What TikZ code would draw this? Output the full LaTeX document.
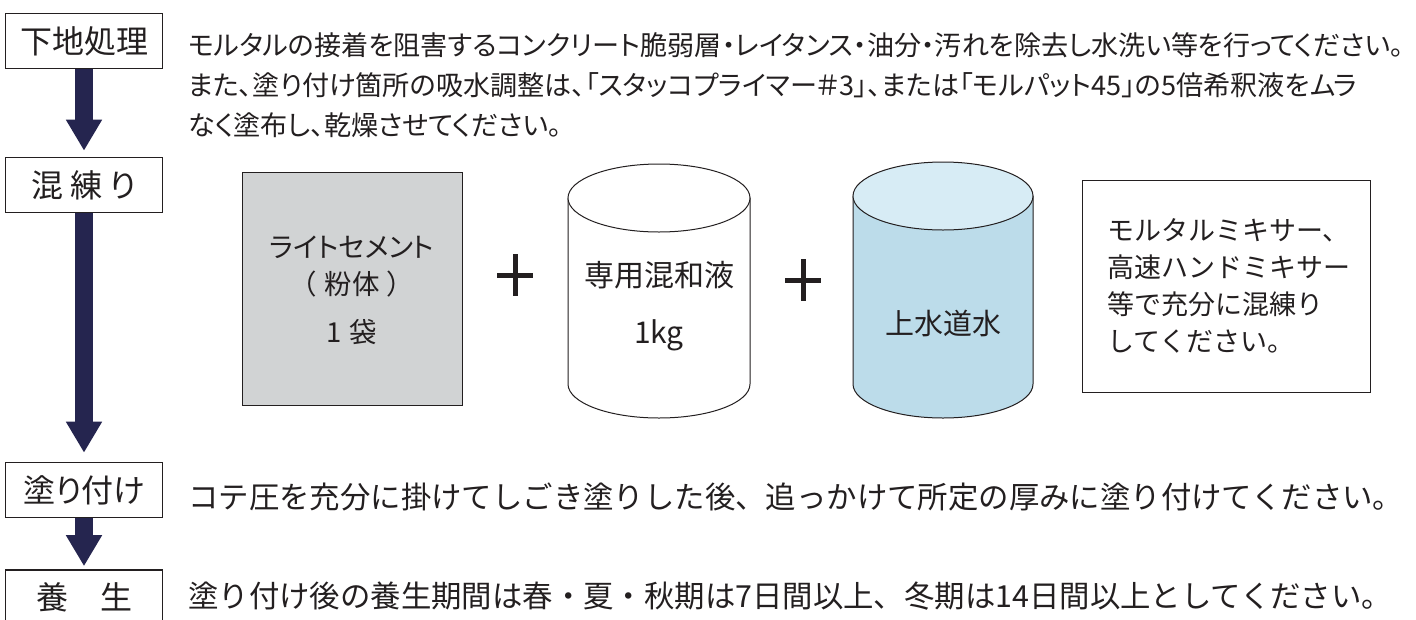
\documentclass[tikz,border=0pt]{standalone}
\usepackage{fontspec}
\usetikzlibrary{arrows.meta}
\newfontfamily\jp{Noto Sans CJK JP}
\newfontfamily\jpp{Noto Sans CJK JP}[RawFeature=+palt]
\definecolor{navy}{HTML}{25254F}
\definecolor{ink}{HTML}{231F20}
\definecolor{cementgray}{HTML}{D1D3D4}
\definecolor{waterbody}{HTML}{BCDCEA}
\definecolor{watertop}{HTML}{D7ECF5}
\begin{document}
\begin{tikzpicture}[x=1pt,y=-1pt,
  stepbox/.style={draw=ink, line width=1.6pt, minimum width=157pt, minimum height=55pt, inner sep=0pt, fill=white, text=ink, font=\jpp\fontsize{32}{32}\selectfont},
  flow/.style={navy, line width=18pt, -{Triangle[width=34pt,length=31pt]}},
  desc/.style={anchor=west, inner sep=0pt, text=ink, font=\jpp\fontsize{27.1}{27.1}\selectfont},
  bigdesc/.style={anchor=west, inner sep=0pt, text=ink, font=\jp\fontsize{30.4}{30.4}\selectfont},
  midtext/.style={inner sep=0pt, text=ink, align=center, font=\jpp\fontsize{27.5}{37}\selectfont},
  cyl/.style={draw=ink, line width=1pt},
  plus/.style={ink, line width=5pt}
]
\useasboundingbox (0,0) rectangle (1416,619);
\clip (0,0) rectangle (1416,619);
\fill[white] (0,0) rectangle (1416,619);

% step boxes
\node[stepbox] (s1) at (84,41) {下地処理};
\node[stepbox] (s2) at (84,185) {混 練 り};
\node[stepbox] (s3) at (84,490) {塗り付け};
\node[stepbox] (s4) at (84,597.5) {養\hspace{1em}生};

% flow arrows
\draw[flow, shorten >=6pt] (s1.south) -- (s2.north);
\draw[flow, shorten >=9pt] (s2.south) -- (s3.north);
\draw[flow, shorten >=3pt] (s3.south) -- (s4.north);

% descriptions
\node[desc] (d1a) at (188,45) {モルタルの接着を阻害するコンクリート脆弱層・レイタンス・油分・汚れを除去し水洗い等を行ってください。};
\node[desc] (d1b) at (188,85) {また、塗り付け箇所の吸水調整は、「スタッコプライマー＃3」、または「モルパット45」の5倍希釈液をムラ};
\node[desc] (d1c) at (188,125) {なく塗布し、乾燥させてください。};
\node[bigdesc] (d3) at (188,497) {コテ圧を充分に掛けてしごき塗りした後、追っかけて所定の厚みに塗り付けてください。};
\node[bigdesc] (d4) at (188,596) {塗り付け後の養生期間は春・夏・秋期は7日間以上、冬期は14日間以上としてください。};

% cement bag
\node[draw=ink, line width=1pt, fill=cementgray, minimum width=220pt, minimum height=233pt, inner sep=0pt] (bag) at (352,288.5) {};
\node[midtext] (bagtext) at (352,290) {ライトセメント\\（\hspace{0.3em}粉体\hspace{0.3em}）\\[11pt]1\hspace{0.3em}袋};

% plus 1
\coordinate (p1) at (515,275);
\draw[plus] ([xshift=-18pt]p1) -- ([xshift=18pt]p1);
\draw[plus] ([yshift=21pt]p1) -- ([yshift=-21pt]p1);

% cylinder 1 (admixture)
\draw[cyl, fill=white] (568,198) -- (568,384)
  .. controls (568,402.8) and (608.7,418) .. (659,418)
  .. controls (709.3,418) and (750,402.8) .. (750,384) -- (750,198) -- cycle;
\draw[cyl, fill=white] (659,198) ellipse [x radius=91, y radius=34];
\node[midtext, font=\jp\fontsize{30}{57}\selectfont] (liquid) at (659,306) {専用混和液\\1kg};

% plus 2
\coordinate (p2) at (803,280);
\draw[plus] ([xshift=-18pt]p2) -- ([xshift=18pt]p2);
\draw[plus] ([yshift=21pt]p2) -- ([yshift=-21pt]p2);

% cylinder 2 (water)
\draw[cyl, fill=waterbody] (853,196) -- (853,384)
  .. controls (853,402.8) and (893.3,418) .. (943,418)
  .. controls (992.7,418) and (1033,402.8) .. (1033,384) -- (1033,196) -- cycle;
\draw[cyl, fill=watertop] (943,196) ellipse [x radius=90, y radius=34];
\node[midtext, font=\jp\fontsize{29}{29}\selectfont] (water) at (943,323) {上水道水};

% note box
\node[draw=ink, line width=1pt, minimum width=288pt, minimum height=212pt, inner sep=0pt, align=left, text=ink, font=\jp\fontsize{27}{37}\selectfont] (note) at (1226,286) {\hspace{5pt}モルタルミキサー、\\\hspace{5pt}高速ハンドミキサー\\\hspace{5pt}等で充分に混練り\\\hspace{5pt}してください。};
\end{tikzpicture}
\end{document}
